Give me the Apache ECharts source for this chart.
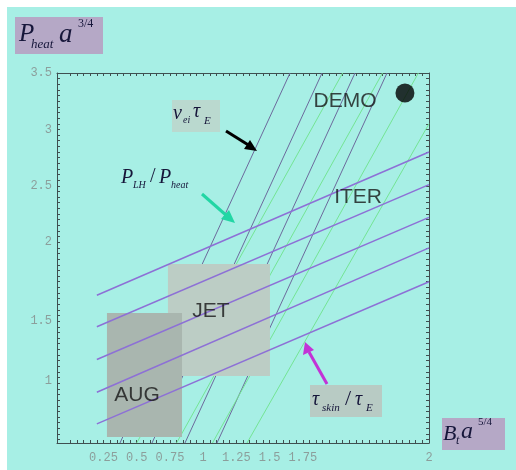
<!DOCTYPE html>
<html>
<head>
<meta charset="utf-8">
<script src="https://cdn.jsdelivr.net/npm/echarts@6/dist/echarts.min.js"></script>
<style>
  html, body { margin: 0; padding: 0; background: #ffffff; }
  #chart { width: 516px; height: 470px; }
</style>
</head>
<body>
<div id="chart"></div>
<script>
// Axis ranges (plot units)
const xRange = [-0.1, 2.7];
const yRange = [0.22, 3.5];

// Tick labels and where they sit on each axis
const xTickValues = [0.25, 0.5, 0.75, 1, 1.25, 1.5, 1.75, 2.7];
const xTickLabels = ['0.25', '0.5', '0.75', '1', '1.25', '1.5', '1.75', '2'];
const yTickValues = [3.5, 3.0, 2.5, 2.0, 1.3, 0.77];
const yTickLabels = ['3.5', '3', '2.5', '2', '1.5', '1'];

// tau_skin / tau_E contours: y at the left end and the right end
const skinX = [0.2, 2.7];
const skinLeftY = [1.53, 1.25, 0.96, 0.67, 0.39];
const skinRightY = [2.80, 2.51, 2.22, 1.95, 1.65];

// nu_ei tau_E contours: [x at start, y at start, x at end, y at end]
const nuLines = [
  [1.654, 3.5, 0.374, 0.22],
  [1.895, 3.5, 0.615, 0.22],
  [2.143, 3.5, 0.863, 0.22],
  [2.384, 3.5, 1.104, 0.22]
];

// P_LH / P_heat contours
const lhLines = [
  [2.05, 3.5, 0.50, 0.22],
  [2.35, 3.5, 0.80, 0.22],
  [2.62, 3.5, 1.07, 0.22],
  [2.70, 3.05, 1.33, 0.22]
];

// Device operating regions: [name, x0, y0, x1, y1]
const devices = [
  ['JET', 0.735, 1.807, 1.503, 0.814],
  ['AUG', 0.276, 1.372, 0.841, 0.273]
];

// Named points on the chart
const demoPoint = [2.519, 3.323];
const textMarks = [
  ['DEMO', 2.068, 3.25],
  ['ITER', 2.166, 2.40],
  ['JET', 1.059, 1.39],
  ['AUG', 0.502, 0.645]
];

const chart = echarts.init(document.getElementById('chart'));

function lineSeries(name, pts, color, width, z) {
  return {
    name: name,
    type: 'line',
    data: pts,
    symbol: 'none',
    silent: true,
    z: z,
    lineStyle: { color: color, width: width },
    clip: true
  };
}

const series = [];
nuLines.forEach(function (l, i) {
  series.push(lineSeries('nu' + i, [[l[0], l[1]], [l[2], l[3]]], '#6c6a9c', 1, 2));
});
lhLines.forEach(function (l, i) {
  series.push(lineSeries('lh' + i, [[l[0], l[1]], [l[2], l[3]]], '#74e494', 1, 2));
});

// device boxes drawn over the steep contours
series.push({
  type: 'custom',
  name: 'devices',
  z: 3,
  silent: true,
  data: devices.map(function (d) { return [d[1], d[2], d[3], d[4]]; }),
  renderItem: function (params, api) {
    const p0 = api.coord([api.value(0), api.value(1)]);
    const p1 = api.coord([api.value(2), api.value(3)]);
    const fill = params.dataIndex === 0 ? '#bccdc5' : '#a9b6af';
    return {
      type: 'rect',
      shape: { x: p0[0], y: p0[1], width: p1[0] - p0[0], height: p1[1] - p0[1] },
      style: { fill: fill }
    };
  }
});

skinLeftY.forEach(function (yl, i) {
  series.push(lineSeries('skin' + i, [[skinX[0], yl], [skinX[1], skinRightY[i]]], '#8d70d6', 1.5, 4));
});

series.push({
  type: 'scatter',
  name: 'DEMO point',
  data: [demoPoint],
  symbolSize: 19,
  itemStyle: { color: '#000000' },
  z: 5,
  silent: true
});

series.push({
  type: 'scatter',
  name: 'names',
  data: textMarks.map(function (t) { return { value: [t[1], t[2]], name: t[0] }; }),
  symbolSize: 0,
  z: 6,
  silent: true,
  label: {
    show: true,
    position: 'inside',
    formatter: function (p) { return p.name; },
    fontFamily: 'Liberation Sans',
    fontSize: 21,
    color: '#161616'
  }
});

function tickList(a, b, step) {
  const out = [];
  for (let v = a; v <= b + 1e-9; v += step) out.push(+v.toFixed(4));
  return out;
}

const frameColor = '#3f4f50';
const labelStyle = { fontFamily: 'Liberation Mono', fontSize: 12, color: '#8c9e9b' };

function frameAxis(extra) {
  return Object.assign({
    type: 'value',
    axisLine: { show: true, onZero: false, lineStyle: { color: frameColor, width: 1 } },
    axisLabel: { show: false },
    splitLine: { show: false }
  }, extra);
}

const option = {
  backgroundColor: '#ffffff',
  animation: false,
  grid: { left: 57, top: 73, right: 87, bottom: 27, show: false },
  xAxis: [
    frameAxis({
      min: xRange[0], max: xRange[1], position: 'bottom',
      axisTick: { show: true, inside: true, length: 3, customValues: tickList(0, 2.7, 0.05), lineStyle: { color: frameColor } },
      axisLabel: {
        show: true, margin: 9, customValues: xTickValues,
        formatter: function (v) { const i = xTickValues.indexOf(v); return i >= 0 ? xTickLabels[i] : ''; },
        ...labelStyle
      }
    }),
    frameAxis({
      min: xRange[0], max: xRange[1], position: 'top',
      axisTick: { show: true, inside: true, length: 3, customValues: tickList(0, 2.7, 0.05), lineStyle: { color: frameColor } }
    })
  ],
  yAxis: [
    frameAxis({
      min: yRange[0], max: yRange[1], position: 'left',
      axisTick: { show: true, inside: true, length: 3, customValues: tickList(0.25, 3.5, 0.05), lineStyle: { color: frameColor } },
      axisLabel: {
        show: true, margin: 5, customValues: yTickValues,
        formatter: function (v) { const i = yTickValues.indexOf(v); return i >= 0 ? yTickLabels[i] : ''; },
        ...labelStyle
      }
    }),
    frameAxis({
      min: yRange[0], max: yRange[1], position: 'right',
      axisTick: { show: true, inside: true, length: 3, customValues: tickList(0.25, 3.5, 0.05), lineStyle: { color: frameColor } }
    })
  ],
  graphic: [
    // page backdrop
    { type: 'rect', z: -10, silent: true, shape: { x: 7, y: 7, width: 509, height: 463 }, style: { fill: '#a7efe5' } },

    // y-axis title: P_heat a^(3/4)
    { type: 'group', z: 10, silent: true, children: [
      { type: 'rect', shape: { x: 15, y: 17, width: 88, height: 37 }, style: { fill: '#b5a8c6' } },
      { type: 'text', x: 19, y: 22, style: { text: 'P', font: 'italic 25px "Liberation Serif"', fill: '#16163a' } },
      { type: 'text', x: 31, y: 38, style: { text: 'heat', font: 'italic 13px "Liberation Serif"', fill: '#16163a' } },
      { type: 'text', x: 59, y: 21, style: { text: 'a', font: 'italic 27px "Liberation Serif"', fill: '#16163a' } },
      { type: 'text', x: 78, y: 18, style: { text: '3/4', font: '12px "Liberation Serif"', fill: '#16163a' } }
    ] },

    // x-axis title: B_t a^(5/4)
    { type: 'group', z: 10, silent: true, children: [
      { type: 'rect', shape: { x: 442, y: 418, width: 63, height: 32 }, style: { fill: '#b5a8c6' } },
      { type: 'text', x: 443, y: 423, style: { text: 'B', font: 'italic 22px "Liberation Serif"', fill: '#16163a' } },
      { type: 'text', x: 456, y: 435, style: { text: 't', font: 'italic 12px "Liberation Serif"', fill: '#16163a' } },
      { type: 'text', x: 461, y: 420, style: { text: 'a', font: 'italic 24px "Liberation Serif"', fill: '#16163a' } },
      { type: 'text', x: 478, y: 417, style: { text: '5/4', font: '11px "Liberation Serif"', fill: '#16163a' } }
    ] },

    // nu_ei tau_E tag and arrow
    { type: 'group', z: 10, silent: true, children: [
      { type: 'rect', shape: { x: 172, y: 100, width: 48, height: 32 }, style: { fill: '#bad9cf' } },
      { type: 'text', x: 173, y: 104, style: { text: '\u03bd', font: 'italic 20px "Liberation Serif"', fill: '#16163a' } },
      { type: 'text', x: 183, y: 115, style: { text: 'ei', font: 'italic 10px "Liberation Serif"', fill: '#16163a' } },
      { type: 'text', x: 193, y: 102, style: { text: '\u03c4', font: 'italic 20px "Liberation Serif"', fill: '#16163a' } },
      { type: 'text', x: 204, y: 116, style: { text: 'E', font: 'italic 11px "Liberation Serif"', fill: '#16163a' } }
    ] },
    { type: 'line', z: 10, silent: true, shape: { x1: 226, y1: 131, x2: 250, y2: 146 }, style: { stroke: '#000000', lineWidth: 3 } },
    { type: 'polygon', z: 10, silent: true, shape: { points: [[257, 151], [244, 149], [250, 140]] }, style: { fill: '#000000' } },

    // P_LH / P_heat tag and arrow
    { type: 'group', z: 10, silent: true, children: [
      { type: 'text', x: 121, y: 168, style: { text: 'P', font: 'italic 20px "Liberation Serif"', fill: '#16163a' } },
      { type: 'text', x: 133, y: 180, style: { text: 'LH', font: 'italic 10px "Liberation Serif"', fill: '#16163a' } },
      { type: 'text', x: 150, y: 167, style: { text: '/', font: '20px "Liberation Serif"', fill: '#16163a' } },
      { type: 'text', x: 159, y: 168, style: { text: 'P', font: 'italic 20px "Liberation Serif"', fill: '#16163a' } },
      { type: 'text', x: 171, y: 180, style: { text: 'heat', font: 'italic 10px "Liberation Serif"', fill: '#16163a' } }
    ] },
    { type: 'line', z: 10, silent: true, shape: { x1: 202, y1: 194, x2: 227, y2: 216 }, style: { stroke: '#22d6a4', lineWidth: 3 } },
    { type: 'polygon', z: 10, silent: true, shape: { points: [[235, 223], [221, 219], [229, 210]] }, style: { fill: '#22d6a4' } },

    // tau_skin / tau_E tag and arrow
    { type: 'group', z: 10, silent: true, children: [
      { type: 'rect', shape: { x: 310, y: 385, width: 72, height: 32 }, style: { fill: '#b8cbc4' } },
      { type: 'text', x: 312, y: 390, style: { text: '\u03c4', font: 'italic 20px "Liberation Serif"', fill: '#16163a' } },
      { type: 'text', x: 322, y: 403, style: { text: 'skin', font: 'italic 11px "Liberation Serif"', fill: '#16163a' } },
      { type: 'text', x: 345, y: 388, style: { text: '/', font: '22px "Liberation Serif"', fill: '#16163a' } },
      { type: 'text', x: 355, y: 390, style: { text: '\u03c4', font: 'italic 20px "Liberation Serif"', fill: '#16163a' } },
      { type: 'text', x: 366, y: 403, style: { text: 'E', font: 'italic 11px "Liberation Serif"', fill: '#16163a' } }
    ] },
    { type: 'line', z: 10, silent: true, shape: { x1: 327, y1: 384, x2: 309, y2: 352 }, style: { stroke: '#c233d6', lineWidth: 3 } },
    { type: 'polygon', z: 10, silent: true, shape: { points: [[305, 342], [303, 355], [314, 350]] }, style: { fill: '#c233d6' } }
  ],
  series: series
};

chart.setOption(option);
</script>
</body>
</html>
